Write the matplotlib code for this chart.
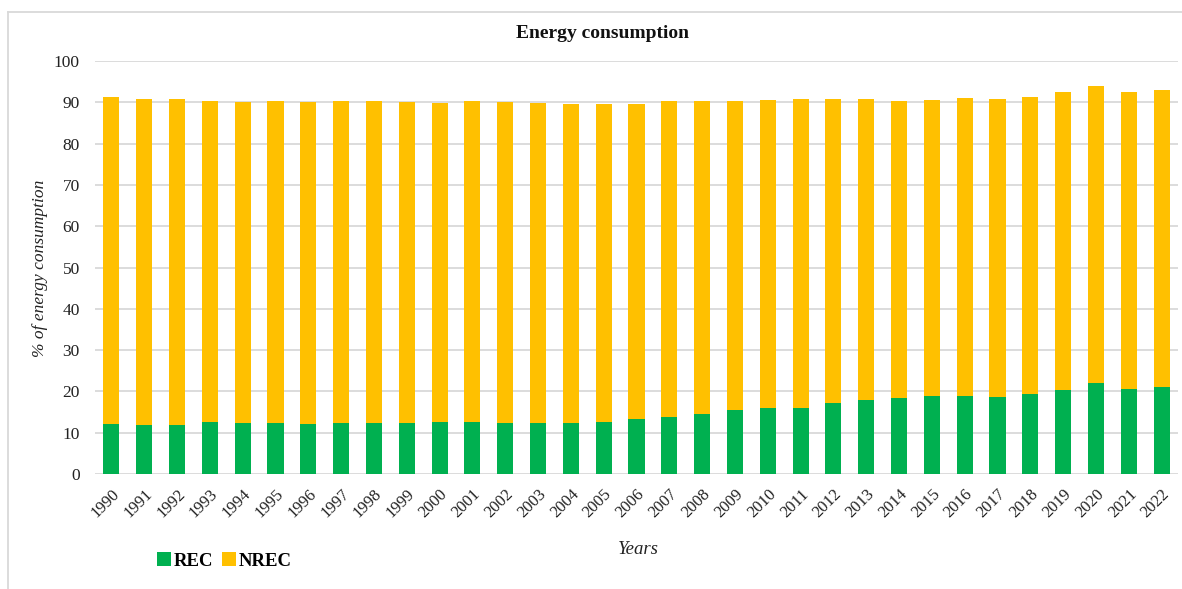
import matplotlib
matplotlib.use("Agg")
import matplotlib.pyplot as plt
from matplotlib.patches import Patch
from matplotlib.lines import Line2D
import numpy as np

years = [str(y) for y in range(1990, 2023)]
rec = [12.1, 11.9, 11.9, 12.6, 12.4, 12.4, 12.0, 12.4, 12.4, 12.4, 12.6,
       12.6, 12.3, 12.3, 12.4, 12.6, 13.2, 13.9, 14.5, 15.5, 16.0, 16.1,
       17.2, 17.8, 18.4, 18.9, 18.9, 18.7, 19.4, 20.4, 22.0, 20.6, 21.0]
total = [91.2, 90.7, 90.7, 90.4, 90.0, 90.2, 90.0, 90.2, 90.4, 90.0, 89.8,
         90.2, 90.0, 89.8, 89.7, 89.7, 89.7, 90.2, 90.2, 90.3, 90.6, 90.7,
         90.8, 90.8, 90.3, 90.6, 91.0, 90.7, 91.4, 92.4, 93.9, 92.6, 93.0]
nrec = [round(t - r, 1) for t, r in zip(total, rec)]

GREEN = "#00B050"
YELLOW = "#FFC000"
GRID = "#d9d9d9"

plt.rcParams["font.family"] = ["Liberation Serif", "DejaVu Serif"]

W, H = 1182, 589
fig = plt.figure(figsize=(W / 100, H / 100), dpi=100)
ax = fig.add_axes([95 / W, 1 - 474 / H, (1178 - 95) / W, (474 - 61) / H])

x = np.arange(len(years))
ax.bar(x, rec, width=0.49, color=GREEN, zorder=3)
ax.bar(x, nrec, width=0.49, bottom=rec, color=YELLOW, zorder=3)

ax.set_xlim(-0.5, len(years) - 0.5)
ax.set_ylim(0, 100)
ax.set_yticks(np.arange(0, 101, 10))
ax.yaxis.grid(True, color=GRID, linewidth=1.3, zorder=0)
ax.set_axisbelow(True)
for s in ax.spines.values():
    s.set_visible(False)
ax.tick_params(axis="both", length=0, labelsize=12.5, colors="#222222")
ax.tick_params(axis="y", pad=11)
ax.set_xticks(x)
ax.set_xticklabels(years, rotation=45, ha="right", va="top",
                   rotation_mode="anchor", fontsize=12)
ax.tick_params(axis="x", pad=9)

fig.text(602 / W, 1 - 33 / H, "Energy consumption", ha="center", va="center",
         fontsize=14, fontweight="bold", color="#111111")
fig.text(40 / W, 1 - 268 / H, "% of energy consumption", ha="center",
         va="center", rotation=90, fontsize=12.5, fontstyle="italic",
         color="#222222")
fig.text(638 / W, 1 - 549 / H, "Years", ha="center", va="center",
         fontsize=13.5, fontstyle="italic", color="#222222")

handles = [Patch(facecolor=GREEN, label="REC"),
           Patch(facecolor=YELLOW, label="NREC")]
fig.legend(handles=handles, loc="center left",
           bbox_to_anchor=(157 / W, 1 - 561 / H), ncol=2, frameon=False,
           handlelength=0.75, handleheight=0.75, handletextpad=0.15,
           columnspacing=0.45, borderpad=0, borderaxespad=0,
           prop={"weight": "bold", "size": 13.5})

# outer chart border (left and top edges)
fig.add_artist(Line2D([8 / W, 8 / W], [0, 1 - 12 / H], color=GRID,
                      linewidth=1.3, transform=fig.transFigure))
fig.add_artist(Line2D([8 / W, 1], [1 - 12 / H, 1 - 12 / H], color=GRID,
                      linewidth=1.3, transform=fig.transFigure))

fig.savefig("out.png", dpi=100, facecolor="white")
